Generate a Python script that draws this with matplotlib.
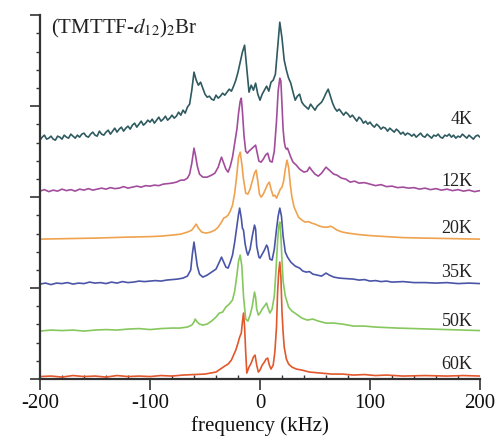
import numpy as np
import matplotlib
matplotlib.use('Agg')
import matplotlib.pyplot as plt
from matplotlib.ticker import MultipleLocator

plt.rcParams['font.family'] = ['Liberation Serif', 'DejaVu Serif']
plt.rcParams['mathtext.fontset'] = 'stix'
plt.rcParams['axes.unicode_minus'] = False

# spectra: frequency (kHz) and intensity (a.u., above each baseline)
freq_4K = np.arange(-200, 201, 2)
int_4K = [0, 3, 5, 1, 2, 4, 1, 0, 4, 3,
          1, 5, 3, 2, 6, 4, 2, 5, 3, 6,
          7, 4, 3, 6, 8, 5, 4, 9, 6, 5,
          8, 10, 6, 9, 12, 8, 11, 13, 9, 12,
          14, 11, 15, 17, 13, 16, 19, 15, 17, 20,
          18, 21, 17, 20, 23, 19, 21, 24, 20, 22,
          25, 22, 24, 28, 25, 30, 27, 33, 36, 50,
          68, 60, 55, 58, 52, 46, 43, 44, 41, 40,
          45, 42, 44, 47, 45, 48, 51, 49, 54, 60,
          68, 78, 88, 95, 72, 48, 55, 50, 57, 46,
          40, 46, 50, 54, 49, 58, 60, 66, 92, 118,
          102, 80, 70, 62, 57, 48, 40, 44, 46, 38,
          35, 33, 31, 36, 33, 30, 34, 36, 38, 42,
          47, 51, 44, 37, 32, 29, 31, 28, 25, 28,
          26, 23, 25, 22, 19, 23, 21, 17, 19, 16,
          18, 15, 13, 16, 14, 11, 13, 12, 9, 12,
          10, 8, 11, 9, 6, 8, 5, 7, 6, 4,
          6, 3, 5, 7, 4, 3, 6, 4, 2, 5,
          4, 6, 3, 2, 5, 4, 6, 3, 5, 2,
          4, 3, 6, 4, 2, 5, 3, 1, 4, 5,
          3]

freq_12K = [-200, -196, -192, -188, -184, -180, -176, -172, -168, -164,
            -160, -156, -152, -148, -144, -140, -136, -132, -128, -124,
            -120, -116, -112, -108, -104, -100, -96, -92, -88, -84,
            -80, -76, -72, -69, -66, -64, -62, -60, -58.5, -57,
            -55, -52, -48, -44, -41, -38, -36, -35, -33, -31,
            -29, -27, -25, -23, -21, -19.5, -18, -17, -16, -14.5,
            -13, -11.5, -10, -8, -6, -4, -2.5, -1, 1, 3,
            5, 7, 9, 11, 13, 15, 16.5, 18, 19, 20,
            21, 22, 23, 24, 25, 26, 28, 30, 33, 36,
            40, 43, 45, 47, 50, 53, 56, 58, 60, 62,
            64, 67, 70, 74, 78, 82, 86, 90, 95, 100,
            105, 110, 115, 120, 125, 130, 135, 140, 145, 150,
            155, 160, 165, 170, 175, 180, 185, 190, 195, 200]
int_12K = [0, 1.5, -0.5, 1, 0, 2, 0.5, 1.5, 0, 2,
           1, 2.5, 1, 2, 3, 2, 3.5, 2.5, 3, 4.5,
           3, 4, 5, 4, 5.5, 5, 6, 5.5, 7, 7.5,
           8, 9, 11, 11, 13, 17, 28, 43, 35, 25,
           17, 14, 14, 16, 18, 24, 31, 34, 28, 22,
           19, 25, 34, 48, 62, 78, 90, 93, 80, 55,
           40, 38, 40, 42, 44, 46, 38, 30, 29, 32,
           36, 38, 30, 29, 40, 70, 100, 113, 110, 85,
           62, 50, 44, 42, 43, 40, 34, 29, 26, 22,
           19, 20, 24, 21, 17, 15, 18, 21, 24, 22,
           20, 17, 16, 13, 12, 9, 10, 8, 8.5, 7,
           5.5, 6.5, 4.5, 5, 3.5, 4, 3, 3.5, 2, 3,
           1.5, 2.5, 1, 2, 0.5, 1.5, 0, 1, -0.5, 0.5]

freq_20K = [-200, -175, -150, -120, -100, -90, -80, -72, -66, -62,
            -60, -58, -56, -53, -49, -45, -41, -38, -35, -33,
            -31, -29, -27, -25, -23, -21, -19.5, -18, -16.5, -15,
            -13, -11, -9, -7, -5, -3.5, -2, -0.5, 1, 3,
            5, 7, 8.5, 10, 12, 13.5, 15, 17, 18.5, 20,
            21.5, 23, 24.5, 26, 27.5, 29, 31, 33, 35, 38,
            41, 44, 47, 50, 54, 58, 62, 64, 66, 70,
            75, 80, 90, 100, 115, 130, 150, 175, 200]
int_20K = [0, 0.5, 1, 2, 2.5, 3, 4, 5, 7, 9,
           12, 15, 11, 7, 6, 7, 9, 12, 17, 21,
           22, 24, 28, 34, 46, 65, 82, 87, 75, 60,
           46, 45, 50, 58, 66, 69, 58, 45, 42, 45,
           50, 55, 57, 50, 43, 44, 41, 46, 50, 52,
           58, 70, 79, 72, 55, 42, 32, 27, 22, 19,
           17, 17.5, 16, 15, 13, 12, 12, 13, 12, 9,
           7, 6, 4.5, 3.5, 2.5, 1.5, 1, 0.5, 0]

freq_35K = [-200, -195, -190, -185, -180, -175, -170, -165, -160, -155,
            -150, -145, -140, -135, -130, -125, -120, -115, -110, -105,
            -100, -95, -90, -85, -80, -75, -70, -66, -63, -61.5,
            -60, -58.5, -57, -55, -52, -48, -44, -40, -37, -35,
            -33, -31, -29, -27, -25, -23, -21, -19.5, -18.5, -17,
            -16, -15, -13.5, -12, -11, -9, -7, -5, -4, -3,
            -1, 0, 2, 4, 6, 7, 9, 11, 13, 15,
            16.5, 18, 19.5, 21, 23, 25, 28, 32, 36, 39,
            42, 45, 48, 52, 56, 60, 63, 67, 72, 78,
            85, 90, 95, 100, 105, 110, 115, 120, 130, 140,
            150, 160, 170, 180, 190, 200]
int_35K = [0, 1, -0.5, 1, 0.5, 1.5, 0, 1, 0.5, 2,
           1, 1.5, 0.5, 2, 1, 2.5, 1.5, 2, 3, 2.5,
           3, 3.5, 3, 4, 4.5, 5, 6, 8, 14, 30,
           42, 30, 18, 10, 7, 9, 12, 15, 22, 27,
           22, 17, 16, 22, 29, 42, 58, 70, 76, 66,
           56, 54, 40, 32, 29, 35, 48, 59, 55, 38,
           27, 26, 30, 34, 39, 37, 25, 24, 35, 55,
           68, 76, 68, 48, 32, 27, 22, 18, 16, 13,
           12, 12.5, 10, 9, 8, 11, 9, 7, 6, 5.5,
           5, 4, 4.5, 3, 3.5, 2.5, 3, 2, 2.5, 1.5,
           1.5, 1, 1.5, 0.5, 1, 0.5]

freq_50K = [-200, -190, -180, -170, -160, -150, -140, -130, -120, -110,
            -100, -90, -80, -73, -66, -62, -60, -59, -57, -55,
            -52, -48, -44, -40, -37, -34, -31, -28, -25, -23,
            -21, -19.5, -18, -16.5, -15, -13, -11, -9, -7, -5,
            -4, -3, -1.5, 0, 2, 4, 6, 7, 9, 11,
            13, 14.5, 16, 17, 18, 19, 20, 21, 23, 26,
            29, 33, 38, 43, 48, 53, 60, 67, 75, 85,
            95, 105, 115, 125, 140, 155, 170, 185, 200]
int_50K = [0, 1, 0.5, 1, 0, 1, 1.5, 1, 2, 2.5,
           1.5, 2.5, 3, 3, 4, 6, 9, 12, 9, 7,
           6, 7, 10, 14, 18, 19, 24, 27, 31, 40,
           56, 70, 76, 65, 35, 12, 10, 16, 25, 39,
           34, 22, 16, 18, 22, 25, 28, 24, 18, 22,
           35, 60, 90, 105, 109, 95, 70, 50, 35, 24,
           20, 17, 13, 11, 12, 10, 8, 8, 7, 5,
           5, 4, 3.5, 3, 2.5, 2, 1.5, 1, 0.5]

freq_60K = [-200, -190, -180, -170, -160, -150, -140, -130, -120, -110,
            -100, -90, -80, -70, -60, -50, -45, -40, -36, -32,
            -29, -26, -24, -22, -20, -18.5, -17, -16, -15, -14,
            -13, -12, -10, -8, -6, -4.5, -3, -1.5, 0, 2,
            4, 5.5, 7, 8.5, 10, 12, 13.5, 15, 16, 17,
            18, 19, 20, 21, 22, 24, 26, 29, 33, 38,
            45, 55, 65, 75, 85, 95, 105, 115, 130, 150,
            170, 185, 200]
int_60K = [0.5, 1, 0, 1.5, 0.5, 1, 0, 1.5, 0.5, 1,
           0.5, 1.5, 1, 2, 2.5, 3, 4, 5, 8, 11,
           13, 17, 22, 27, 34, 40, 44, 55, 64, 50,
           25, 4, 10, 14, 20, 22, 12, 5, 7, 12,
           15, 18, 19, 12, 8, 12, 25, 50, 85, 105,
           115, 100, 65, 45, 30, 18, 13, 10, 8, 7,
           5, 4, 3, 3, 2, 2.5, 1.5, 2, 1, 1.5,
           1, 1.5, 1]

temps = ['4K', '12K', '20K', '35K', '50K', '60K']
offsets = [239, 188, 140, 95, 48, 2]
label_y = [260, 198, 151, 107, 58, 15]
colors = ['#2e5a60', '#a24d9c', '#f0a24e', '#4a55a8', '#86c75e', '#e2572b']

freqs = [freq_4K, freq_12K, freq_20K, freq_35K, freq_50K, freq_60K]
ints = [int_4K, int_12K, int_20K, int_35K, int_50K, int_60K]

fig = plt.figure(figsize=(5, 4.47), dpi=100)
ax = fig.add_axes([0.08, 0.152, 0.88, 0.814])

for f, y, off, c, t, ly in zip(freqs, ints, offsets, colors, temps, label_y):
    ax.plot(f, np.array(y) + off, color=c, lw=1.2)
    ax.text(193, ly, t, ha='right', va='center', fontsize=13, color='#222222')

ax.text(-190, 362, r'(TMTTF-$d_{12}$)$_2$Br', ha='left', va='top', fontsize=15, color='#222222')

ax.set_xlim(-200, 200)
ax.set_ylim(0, 364)
ax.xaxis.set_major_locator(MultipleLocator(100))
ax.xaxis.set_minor_locator(MultipleLocator(20))
ax.yaxis.set_major_locator(MultipleLocator(91))
ax.yaxis.set_minor_locator(MultipleLocator(18.2))
ax.tick_params(axis='x', which='major', direction='out', length=8, width=1.2,
               labelsize=15, pad=3, colors='#333333', labelcolor='#111111')
ax.tick_params(axis='x', which='minor', direction='in', length=3, width=1, colors='#333333')
ax.tick_params(axis='y', which='major', direction='out', length=7, width=1.2,
               labelleft=False, colors='#333333')
ax.tick_params(axis='y', which='minor', direction='out', length=3, width=1, colors='#333333')

for s in ['top', 'right']:
    ax.spines[s].set_visible(False)
for s in ['left', 'bottom']:
    ax.spines[s].set_color('#333333')
    ax.spines[s].set_linewidth(1.6)

ax.set_xlabel('frequency (kHz)', fontsize=15, labelpad=2, color='#111111')

fig.savefig('out.png', dpi=100)
